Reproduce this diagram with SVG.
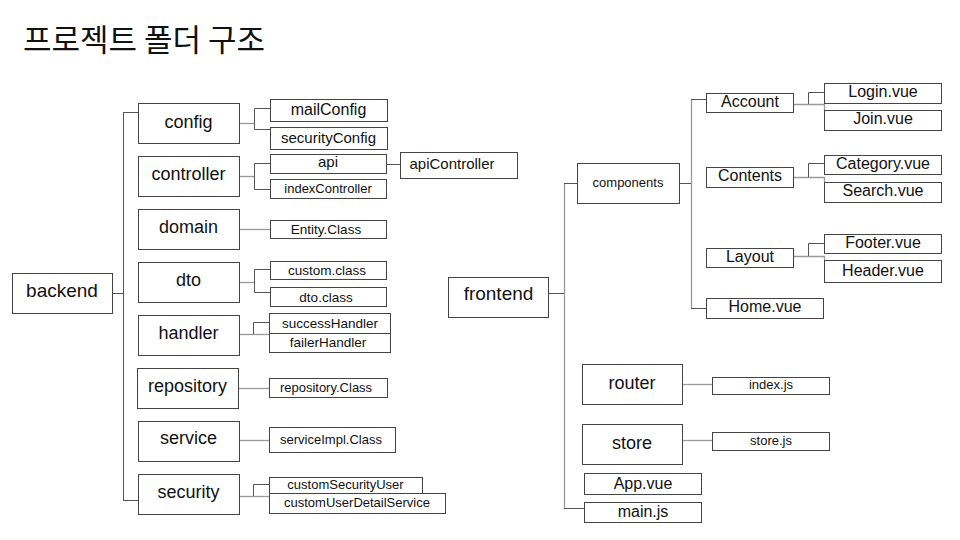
<svg xmlns="http://www.w3.org/2000/svg" width="960" height="540" viewBox="0 0 960 540">
<style>
  .bx { fill: #ffffff; stroke: #444444; stroke-width: 1; }
  .t { font-family: "Liberation Sans", Arial, sans-serif; fill: #111111; text-anchor: middle; }
  .root { font-size: 19px; }
  .l1 { font-size: 18px; }
  .l2 { font-size: 16px; }
  .sm { font-size: 13.5px; }
  .xs { font-size: 13px; }
  .dk { fill: none; stroke: #555555; stroke-width: 1; }
  .gy { fill: none; stroke: #999999; stroke-width: 1.3; }
  .title { font-family: "Noto Sans CJK KR", "Noto Sans", sans-serif; font-size: 31px; fill: #111111; }
</style>
<rect width="960" height="540" fill="#ffffff"/>
<text class="title" x="23" y="51">프로젝트 폴더 구조</text>

<g id="connectors">
  <path class="dk" d="M112 293.5 H123.5 M123.5 112 V500.5 M123 112.5 H138 M123 500.5 H138"/>
  <path class="gy" d="M239 123.5 H254"/>
  <path class="dk" d="M270 108.5 H254.5 V129.5 H270"/>
  <path class="gy" d="M239 176.5 H254"/>
  <path class="dk" d="M270 163.5 H254.5 V189.5 H270"/>
  <path class="dk" d="M386 164.5 H400"/>
  <path class="gy" d="M239 229.5 H270"/>
  <path class="gy" d="M239 282.5 H254"/>
  <path class="dk" d="M270 269.5 H254.5 V292.5 H270"/>
  <path class="gy" d="M239 334.5 H269"/>
  <path class="dk" d="M269 322.5 H253.5 V334"/>
  <path class="gy" d="M238 388.5 H269"/>
  <path class="gy" d="M239 440.5 H269"/>
  <path class="gy" d="M239 496.5 H269"/>
  <path class="dk" d="M269 484.5 H253.5 V496"/>

  <path class="dk" d="M548 293.5 H564"/>
  <path class="gy" d="M564.5 183 V508.5"/>
  <path class="dk" d="M564 183.5 H577 M564 508.5 H584"/>
  <path class="dk" d="M679 183.5 H691"/>
  <path class="gy" d="M691.5 99 V308.5"/>
  <path class="dk" d="M691 99.5 H706 M691 308.5 H706"/>
  <path class="gy" d="M793 104.5 H824.5 V110"/>
  <path class="dk" d="M808.5 104 V92.5 H824"/>
  <path class="gy" d="M793 177.5 H824.5 V182"/>
  <path class="dk" d="M808.5 177 V163.5 H824"/>
  <path class="gy" d="M793 256.5 H824.5 V260"/>
  <path class="dk" d="M808.5 256 V243.5 H824"/>
  <path class="gy" d="M682 384.5 H712"/>
  <path class="gy" d="M682 440.5 H712"/>
</g>

<g id="backend"><rect class="bx" x="12.5" y="273.5" width="100" height="40"/><text class="t root" x="62" y="297">backend</text></g>
<g id="config"><rect class="bx" x="138.5" y="103.5" width="101" height="40"/><text class="t l1" x="188.5" y="128">config</text></g>
<g id="controller"><rect class="bx" x="138.5" y="156.5" width="101" height="40"/><text class="t l1" x="188.5" y="180">controller</text></g>
<g id="domain"><rect class="bx" x="138.5" y="209.5" width="101" height="40"/><text class="t l1" x="188.5" y="233">domain</text></g>
<g id="dto"><rect class="bx" x="138.5" y="262.5" width="101" height="40"/><text class="t l1" x="188.5" y="286">dto</text></g>
<g id="handler"><rect class="bx" x="138.5" y="315.5" width="101" height="40"/><text class="t l1" x="188.5" y="339">handler</text></g>
<g id="repository"><rect class="bx" x="137.5" y="368.5" width="101" height="40"/><text class="t l1" x="187.5" y="392">repository</text></g>
<g id="service"><rect class="bx" x="138.5" y="421.5" width="101" height="40"/><text class="t l1" x="188.5" y="444">service</text></g>
<g id="security"><rect class="bx" x="138.5" y="474.5" width="101" height="40"/><text class="t l1" x="188.5" y="498">security</text></g>

<g id="mailConfig"><rect class="bx" x="270.5" y="99.5" width="117" height="22"/><text class="t l2" x="328.5" y="115">mailConfig</text></g>
<g id="securityConfig"><rect class="bx" x="270.5" y="127.5" width="117" height="22"/><text class="t" style="font-size:15px" x="328.5" y="143">securityConfig</text></g>
<g id="api"><rect class="bx" x="270.5" y="154.5" width="116" height="19"/><text class="t" style="font-size:15px" x="328" y="167">api</text></g>
<g id="apiController"><rect class="bx" x="400.5" y="152.5" width="117" height="26"/><text class="t" style="font-size:15px" x="452" y="169">apiController</text></g>
<g id="indexController"><rect class="bx" x="270.5" y="179.5" width="116" height="19"/><text class="t xs" x="328" y="193">indexController</text></g>
<g id="entityClass"><rect class="bx" x="270.5" y="220.5" width="116" height="18"/><text class="t sm" x="326" y="234">Entity.Class</text></g>
<g id="customClass"><rect class="bx" x="270.5" y="261.5" width="116" height="18"/><text class="t sm" x="327" y="275">custom.class</text></g>
<g id="dtoClass"><rect class="bx" x="270.5" y="287.5" width="116" height="19"/><text class="t sm" x="326" y="302">dto.class</text></g>
<g id="successHandler"><rect class="bx" x="269.5" y="313.5" width="121" height="20"/><text class="t sm" x="330" y="328">successHandler</text></g>
<g id="failerHandler"><rect class="bx" x="269.5" y="333.5" width="121" height="19"/><text class="t sm" x="328" y="347">failerHandler</text></g>
<g id="repositoryClass"><rect class="bx" x="269.5" y="378.5" width="118" height="19"/><text class="t xs" x="326" y="392">repository.Class</text></g>
<g id="serviceImplClass"><rect class="bx" x="269.5" y="427.5" width="126" height="25"/><text class="t xs" x="331" y="444">serviceImpl.Class</text></g>
<g id="customSecurityUser"><rect class="bx" x="269.5" y="477.5" width="153" height="16"/><text class="t xs" x="345.5" y="489">customSecurityUser</text></g>
<g id="customUserDetailService"><rect class="bx" x="269.5" y="493.5" width="176" height="20"/><text class="t xs" x="357" y="507">customUserDetailService</text></g>

<g id="frontend"><rect class="bx" x="448.5" y="277.5" width="100" height="40"/><text class="t root" x="498.5" y="300">frontend</text></g>
<g id="components"><rect class="bx" x="577.5" y="163.5" width="102" height="40"/><text class="t xs" x="628" y="187">components</text></g>
<g id="account"><rect class="bx" x="706.5" y="93.5" width="87" height="19"/><text class="t l2" x="750" y="107">Account</text></g>
<g id="contents"><rect class="bx" x="706.5" y="167.5" width="87" height="20"/><text class="t l2" x="750" y="181">Contents</text></g>
<g id="layout"><rect class="bx" x="706.5" y="248.5" width="87" height="19"/><text class="t l2" x="750" y="262">Layout</text></g>
<g id="homeVue"><rect class="bx" x="706.5" y="298.5" width="117" height="20"/><text class="t l2" x="765" y="312">Home.vue</text></g>
<g id="loginVue"><rect class="bx" x="824.5" y="83.5" width="117" height="20"/><text class="t l2" x="883" y="97">Login.vue</text></g>
<g id="joinVue"><rect class="bx" x="824.5" y="110.5" width="117" height="20"/><text class="t l2" x="883" y="124">Join.vue</text></g>
<g id="categoryVue"><rect class="bx" x="824.5" y="155.5" width="117" height="19"/><text class="t l2" x="883" y="169">Category.vue</text></g>
<g id="searchVue"><rect class="bx" x="824.5" y="182.5" width="117" height="20"/><text class="t l2" x="883" y="196">Search.vue</text></g>
<g id="footerVue"><rect class="bx" x="824.5" y="234.5" width="117" height="19"/><text class="t l2" x="883" y="248">Footer.vue</text></g>
<g id="headerVue"><rect class="bx" x="824.5" y="260.5" width="117" height="22"/><text class="t l2" x="883" y="276">Header.vue</text></g>
<g id="router"><rect class="bx" x="582.5" y="364.5" width="100" height="40"/><text class="t l1" x="632" y="389">router</text></g>
<g id="indexJs"><rect class="bx" x="712.5" y="377.5" width="117" height="17"/><text class="t xs" x="771" y="389">index.js</text></g>
<g id="store"><rect class="bx" x="582.5" y="424.5" width="100" height="40"/><text class="t l1" x="632" y="449">store</text></g>
<g id="storeJs"><rect class="bx" x="712.5" y="432.5" width="117" height="18"/><text class="t xs" x="771" y="445">store.js</text></g>
<g id="appVue"><rect class="bx" x="584.5" y="473.5" width="117" height="21"/><text class="t l2" x="643" y="489">App.vue</text></g>
<g id="mainJs"><rect class="bx" x="584.5" y="502.5" width="117" height="20"/><text class="t l2" x="643" y="517">main.js</text></g>
</svg>
